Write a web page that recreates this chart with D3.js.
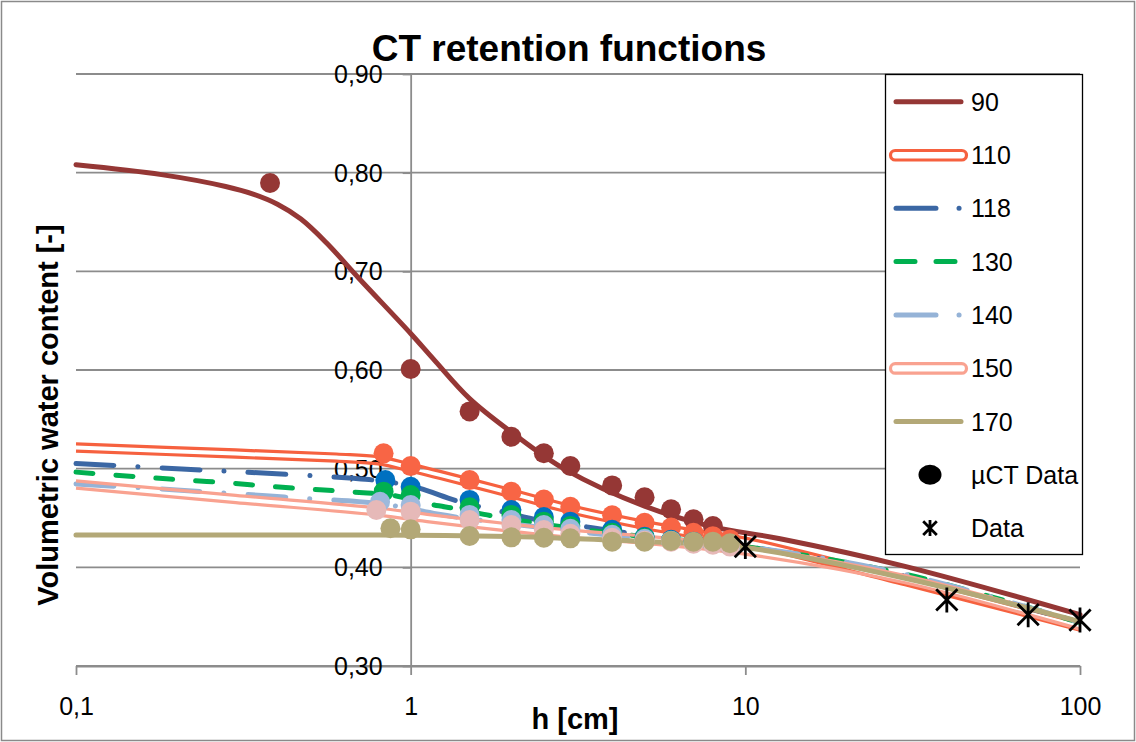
<!DOCTYPE html>
<html>
<head>
<meta charset="utf-8">
<script src="https://cdn.jsdelivr.net/npm/d3@7"></script>
<style>
  body { margin: 0; background: #fff; }
  text { font-family: "Liberation Sans", Arial, sans-serif; fill: #000; }
</style>
</head>
<body>
<div id="container"></div>
<script>
/* DATA */
const seriesNames = ["90", "110", "118", "130", "140", "150", "170"];
const yTicks = [0.30, 0.40, 0.50, 0.60, 0.70, 0.80, 0.90];
const xTicks = [0.1, 1, 10, 100];

// fitted retention curves, [h, theta]
const fit90  = [[0.1,0.808],[0.18,0.798],[0.28,0.786],[0.34,0.778],[0.4,0.768],[0.47,0.753],[0.56,0.729],[0.7,0.693],[1,0.637],[1.17,0.611],[1.5,0.571],[2,0.537],[2.9,0.499],[5,0.462],[8,0.441],[12.7,0.429],[30,0.401],[100,0.352]];
const fit110 = [[0.1,0.5215],[0.3,0.5153],[0.6,0.5112],[0.8,0.5085],[1,0.501],[1.5,0.486],[2,0.475],[3,0.459],[5,0.443],[8,0.431],[10,0.426],[30,0.386],[100,0.340]];
const fit118 = [[0.1,0.5052],[0.207,0.4997],[0.373,0.4953],[0.674,0.4902],[0.84,0.4870],[1.04,0.481],[1.4,0.4665],[1.9,0.456],[2.55,0.4463],[3.44,0.4405],[4.85,0.4328],[6.4,0.427],[10,0.421],[30,0.391],[100,0.344]];
const fit130 = [[0.1,0.4965],[0.16,0.4913],[0.21,0.4885],[0.28,0.4858],[0.37,0.4824],[0.49,0.4794],[0.65,0.4767],[0.89,0.4728],[1.12,0.4645],[1.4,0.4588],[1.85,0.4507],[3,0.440],[5,0.431],[10,0.421],[30,0.393],[100,0.344]];
const fit140 = [[0.1,0.4845],[0.15,0.481],[0.2,0.4785],[0.27,0.4755],[0.37,0.4726],[0.49,0.4696],[0.7,0.4666],[0.89,0.4625],[1.2,0.454],[1.5,0.449],[2,0.444],[3,0.437],[5,0.429],[10,0.421],[30,0.393],[100,0.344]];
const fit150 = [[0.1,0.484],[0.3,0.4693],[0.8,0.4565],[1.12,0.450],[2.8,0.435],[5,0.428],[10,0.417],[30,0.388],[100,0.341]];
const fit170 = [[0.1,0.4328],[0.5,0.4328],[1,0.4325],[2,0.4312],[3,0.4292],[5,0.4262],[10,0.420],[30,0.389],[100,0.345]];

// µCT data points, [h, theta]
const pts90  = [[0.38,0.7895],[1,0.601],[1.5,0.558],[2,0.5324],[2.5,0.5156],[3,0.5027],[4,0.483],[5,0.471],[6,0.4588],[7,0.4487],[8,0.4419]];
const pts110 = [[0.83,0.5155],[1,0.5026],[1.5,0.4884],[2,0.4766],[2.5,0.4688],[3,0.4614],[4,0.4528],[5,0.4451],[6,0.4404],[7,0.4350],[8,0.4316],[9,0.4283]];
const pts118 = [[0.84,0.4885],[1,0.4817],[1.5,0.4683],[2,0.4581],[2.5,0.451],[3,0.4463],[4,0.438],[5,0.431],[6,0.428],[7,0.426],[8,0.424],[9,0.422]];
const pts130 = [[0.83,0.4767],[1,0.4733],[1.5,0.4609],[2,0.4531],[2.5,0.4463],[3,0.442],[4,0.435],[5,0.430],[6,0.427],[7,0.425],[8,0.424],[9,0.422]];
const pts140 = [[0.81,0.4665],[1,0.4632],[1.5,0.4531],[2,0.448],[2.5,0.4429],[3,0.439],[4,0.433],[5,0.429],[6,0.427],[7,0.425],[8,0.424],[9,0.422]];
const pts150 = [[0.79,0.4581],[1,0.4564],[1.5,0.448],[2,0.4429],[2.5,0.4378],[3,0.434],[4,0.430],[5,0.427],[6,0.426],[7,0.424],[8,0.423],[9,0.421]];
const pts170 = [[0.87,0.4396],[1,0.4385],[1.5,0.4318],[2,0.4304],[2.5,0.430],[3,0.4294],[4,0.426],[5,0.426],[6,0.4267],[7,0.426],[8,0.426],[9,0.4244]];

// measured data (stars)
const dataPts = [[10,0.421],[40,0.367],[70,0.352],[100,0.3466]];

/* CONSTANTS */
const width = 1136;
const height = 742;
const margin = { left: 76, right: 56, top: 74, bottom: 76 };

const series = [
  { name: "90",  fit: fit90,  pts: pts90,  line: "#953735", dot: "#953735", style: "solid" },
  { name: "110", fit: fit110, pts: pts110, line: "#F6613F", dot: "#F86545", style: "double" },
  { name: "118", fit: fit118, pts: pts118, line: "#3B67A4", dot: "#0070C0", style: "dashdot" },
  { name: "130", fit: fit130, pts: pts130, line: "#00B050", dot: "#00B050", style: "dash" },
  { name: "140", fit: fit140, pts: pts140, line: "#95B3D7", dot: "#9DB9DC", style: "dashdot" },
  { name: "150", fit: fit150, pts: pts150, line: "#F9A290", dot: "#E6B9B8", style: "double" },
  { name: "170", fit: fit170, pts: pts170, line: "#B3A877", dot: "#B3A877", style: "solid" }
];
const dashes = { dashdot: "38 24 0.1 24", dash: "17 23" };

/* SCALES */
const xScale = d3.scaleLog()
  .domain([0.1, 100])
  .range([margin.left, width - margin.right]);

const yScale = d3.scaleLinear()
  .domain([0.30, 0.90])
  .range([height - margin.bottom, margin.top]);

const fmt = d3.format(".2f");
const comma = s => s.replace(".", ",");

/* SVG */
const svg = d3.select("#container")
  .append("svg")
  .attr("width", width)
  .attr("height", height);

svg.append("rect")
  .attr("x", 1.5).attr("y", 1.5)
  .attr("width", width - 3).attr("height", height - 3)
  .attr("fill", "#fff")
  .attr("stroke", "#8a8a8a")
  .attr("stroke-width", 1.5);

// gridlines
svg.append("g")
  .selectAll("line")
  .data(yTicks)
  .join("line")
  .attr("x1", xScale(0.1))
  .attr("x2", xScale(100))
  .attr("y1", d => yScale(d))
  .attr("y2", d => yScale(d))
  .attr("stroke", "#8c8c8c")
  .attr("stroke-width", 1.8);

// x axis
const xAxis = d3.axisBottom(xScale)
  .tickValues(xTicks)
  .tickSize(9)
  .tickSizeOuter(0)
  .tickPadding(20)
  .tickFormat(d => comma(String(d)));

const xAxisGroup = svg.append("g")
  .attr("class", "xAxis")
  .attr("transform", `translate(0, ${yScale(0.30)})`)
  .call(xAxis);

// y axis crosses at h = 1
const yAxis = d3.axisLeft(yScale)
  .tickValues(yTicks)
  .tickSize(8)
  .tickSizeOuter(0)
  .tickPadding(20)
  .tickFormat(d => comma(fmt(d)));

const yAxisGroup = svg.append("g")
  .attr("class", "yAxis")
  .attr("transform", `translate(${xScale(1)}, 0)`)
  .call(yAxis);

svg.selectAll(".xAxis path, .yAxis path, .xAxis line, .yAxis line")
  .attr("stroke", "#8c8c8c")
  .attr("stroke-width", 1.8);
svg.selectAll(".xAxis text, .yAxis text")
  .attr("font-size", 25)
  .attr("font-family", "Liberation Sans, Arial, sans-serif")
  .attr("fill", "#000");
xAxisGroup.selectAll("text").attr("dy", null).attr("y", 49);
yAxisGroup.selectAll("text").attr("dy", "0.34em");

// LINE GENERATOR
const lineGen = d3.line()
  .x(d => xScale(d[0]))
  .y(d => yScale(d[1]))
  .curve(d3.curveCatmullRom.alpha(0.5));

const linesG = svg.append("g");
series.forEach(s => {
  if (s.style === "double") {
    [-3.6, 3.6].forEach(off => {
      linesG.append("path")
        .datum(s.fit)
        .attr("transform", `translate(0, ${off})`)
        .attr("fill", "none")
        .attr("stroke", s.line)
        .attr("stroke-width", 3.2)
        .attr("d", lineGen);
    });
  } else {
    linesG.append("path")
      .datum(s.fit)
      .attr("fill", "none")
      .attr("stroke", s.line)
      .attr("stroke-width", 5)
      .attr("stroke-linecap", "round")
      .attr("stroke-dasharray", dashes[s.style] || null)
      .attr("d", lineGen);
  }
});

// µCT points
series.forEach(s => {
  svg.append("g")
    .selectAll("circle")
    .data(s.pts)
    .join("circle")
    .attr("cx", d => xScale(d[0]))
    .attr("cy", d => yScale(d[1]))
    .attr("r", 10)
    .attr("fill", s.dot);
});

// star markers
const star = r => `M${-r * 0.85},${-r * 0.85}L${r * 0.85},${r * 0.85}M${-r * 0.85},${r * 0.85}L${r * 0.85},${-r * 0.85}M0,${-r}L0,${r}`;
svg.append("g")
  .selectAll("path")
  .data(dataPts)
  .join("path")
  .attr("transform", d => `translate(${xScale(d[0])}, ${yScale(d[1])})`)
  .attr("d", star(12.5))
  .attr("fill", "none")
  .attr("stroke", "#000")
  .attr("stroke-width", 2.8);

// TITLES
svg.append("text")
  .attr("x", 569)
  .attr("y", 61)
  .attr("text-anchor", "middle")
  .attr("font-size", 37)
  .attr("font-weight", "bold")
  .text("CT retention functions");

svg.append("text")
  .attr("x", 575)
  .attr("y", 729)
  .attr("text-anchor", "middle")
  .attr("font-size", 29)
  .attr("font-weight", "bold")
  .text("h [cm]");

svg.append("text")
  .attr("transform", `translate(58, 415) rotate(-90)`)
  .attr("text-anchor", "middle")
  .attr("font-size", 29)
  .attr("font-weight", "bold")
  .text("Volumetric water content [-]");

// LEGEND
const legend = svg.append("g");
legend.append("rect")
  .attr("x", 885.5).attr("y", 74.5)
  .attr("width", 197).attr("height", 480)
  .attr("fill", "#fff")
  .attr("stroke", "#000")
  .attr("stroke-width", 1.3);

const legendY = i => 101.7 + i * 53.3;
series.forEach((s, i) => {
  const y = legendY(i);
  if (s.style === "double") {
    legend.append("rect")
      .attr("x", 890.5).attr("y", y - 4.5)
      .attr("width", 76).attr("height", 9.5)
      .attr("rx", 4.7)
      .attr("fill", "none")
      .attr("stroke", s.line)
      .attr("stroke-width", 3.2);
  } else {
    legend.append("line")
      .attr("x1", 896).attr("x2", 961)
      .attr("y1", y).attr("y2", y)
      .attr("stroke", s.line)
      .attr("stroke-width", 5)
      .attr("stroke-linecap", "round")
      .attr("stroke-dasharray", s.style === "dashdot" ? "40 23 0.1 30" : s.style === "dash" ? "19 21" : null);
  }
  legend.append("text")
    .attr("x", 971).attr("y", y + 9)
    .attr("font-size", 25)
    .text(s.name);
});

legend.append("ellipse")
  .attr("cx", 930).attr("cy", legendY(7))
  .attr("rx", 11.5).attr("ry", 10)
  .attr("fill", "#000");
legend.append("text")
  .attr("x", 971).attr("y", legendY(7) + 9)
  .attr("font-size", 25)
  .text("µCT Data");

legend.append("path")
  .attr("transform", `translate(930, ${legendY(8)})`)
  .attr("d", star(8))
  .attr("fill", "none")
  .attr("stroke", "#000")
  .attr("stroke-width", 2.8);
legend.append("text")
  .attr("x", 971).attr("y", legendY(8) + 9)
  .attr("font-size", 25)
  .text("Data");
</script>
</body>
</html>
